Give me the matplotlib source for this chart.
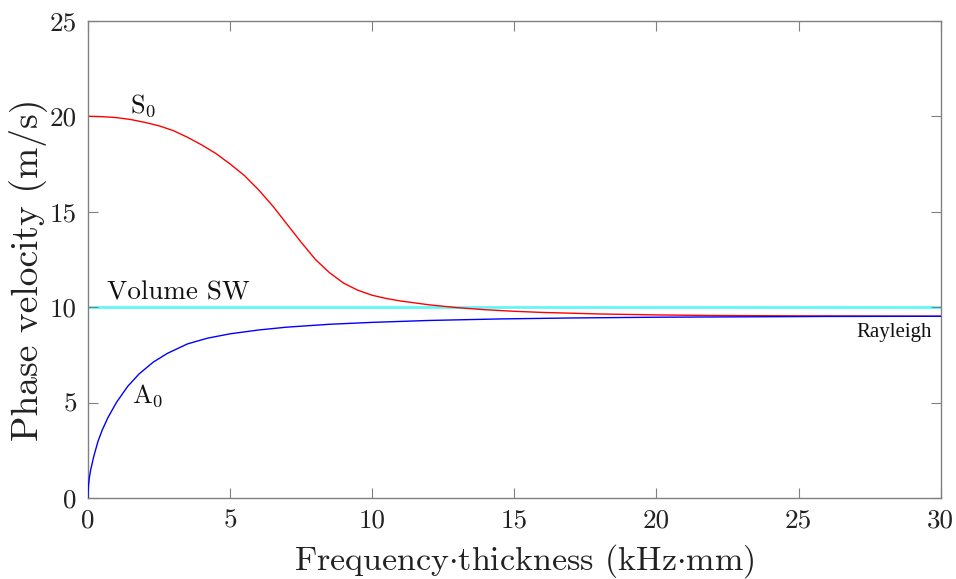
import matplotlib
matplotlib.use("Agg")
import matplotlib.pyplot as plt

plt.rcParams['font.family'] = 'serif'
plt.rcParams['font.serif'] = ['cmr10']
plt.rcParams['mathtext.fontset'] = 'cm'
plt.rcParams['axes.formatter.use_mathtext'] = True

# S0 mode
s0_x = [0.0, 0.5, 1.0, 1.5, 2.0, 2.5, 3.0, 3.5, 4.0, 4.5, 5.0, 5.5, 6.0, 6.5, 7.0,
        7.5, 8.0, 8.5, 9.0, 9.5, 10.0, 10.5, 11.0, 12.0, 13.0, 14.0, 15.0, 16.0,
        18.0, 20.0, 22.0, 25.0, 30.0]
s0_y = [20.0, 19.98, 19.93, 19.83, 19.68, 19.5, 19.25, 18.9, 18.5, 18.05, 17.5,
        16.9, 16.15, 15.3, 14.35, 13.4, 12.5, 11.8, 11.25, 10.88, 10.62, 10.45,
        10.32, 10.12, 9.97, 9.86, 9.78, 9.72, 9.64, 9.59, 9.56, 9.54, 9.52]

# A0 mode
a0_x = [0.0, 0.005, 0.02, 0.05, 0.1, 0.2, 0.35, 0.5, 0.7, 1.0, 1.4, 1.8, 2.3, 2.8,
        3.5, 4.2, 5.0, 6.0, 7.0, 8.5, 10.0, 12.0, 14.5, 17.0, 20.0, 23.0, 26.0, 30.0]
a0_y = [0.0, 0.33, 0.67, 1.07, 1.5, 2.15, 2.95, 3.55, 4.2, 5.0, 5.85, 6.5, 7.12,
        7.58, 8.07, 8.37, 8.6, 8.8, 8.95, 9.1, 9.2, 9.3, 9.38, 9.43, 9.47, 9.49,
        9.51, 9.52]

volume_sw = 10.0
x_ticks = [0, 5, 10, 15, 20, 25, 30]
y_ticks = [0, 5, 10, 15, 20, 25]

fig = plt.figure(figsize=(9.56, 5.79), dpi=100)
ax = fig.add_axes([0.092, 0.140, 0.892, 0.824])

ax.axhline(volume_sw, color='#60f8f8', lw=2.0, zorder=1)
ax.plot(s0_x, s0_y, color='red', lw=1.0, zorder=2)
ax.plot(a0_x, a0_y, color='blue', lw=1.0, zorder=3)

ax.set_xlim(0, 30)
ax.set_ylim(0, 25)
ax.set_xticks(x_ticks)
ax.set_yticks(y_ticks)
ax.set_xticklabels([str(t) for t in x_ticks])
ax.set_yticklabels([str(t) for t in y_ticks])

for sp in ax.spines.values():
    sp.set_color('0.5')
    sp.set_linewidth(1.0)
ax.tick_params(direction='in', length=7, width=0.8, color='0.5',
               top=True, right=True, labelsize=19.5, labelcolor='#222222')
ax.tick_params(axis='x', pad=8)
ax.tick_params(axis='y', pad=8)

ax.set_xlabel(r'Frequency$\cdot$thickness (kHz$\cdot$mm)', fontsize=24.5,
              color='#222222', va='baseline')
ax.set_ylabel('Phase velocity (m/s)', fontsize=27, color='#222222')
ax.xaxis.set_label_coords(0.512, -0.149)
ax.yaxis.set_label_coords(-0.048, 0.478)

ax.text(1.48, 20.2, r'S$_0$', fontsize=19, ha='left', va='baseline', color='#111111')
ax.text(0.67, 10.4, 'Volume SW', fontsize=19.5, ha='left', va='baseline', color='#111111')
ax.text(1.55, 4.98, r'A$_0$', fontsize=19, ha='left', va='baseline', color='#111111')
ax.text(29.7, 8.65, 'Rayleigh', fontsize=15, ha='right', va='center',
        family='Liberation Serif', color='#111111')

fig.savefig('out.png', dpi=100)
